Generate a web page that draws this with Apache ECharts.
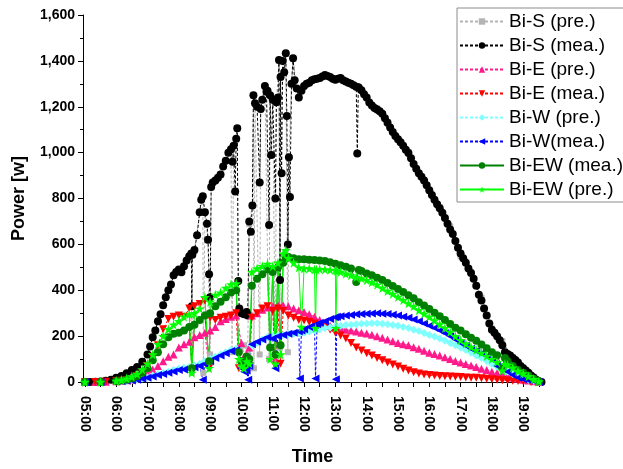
<!DOCTYPE html>
<html><head><meta charset="utf-8">
<script src="https://cdn.jsdelivr.net/npm/echarts@6/dist/echarts.min.js"></script>
<style>html,body{margin:0;padding:0;background:#fff}#c{width:623px;height:469px}</style>
</head><body><div id="c"></div>
<script>
const seriesNames = ['Bi-S (pre.)','Bi-S (mea.)','Bi-E (pre.)','Bi-E (mea.)','Bi-W (pre.)','Bi-W(mea.)','Bi-EW (mea.)','Bi-EW (pre.)'];
const hourLabels = ['05:00','06:00','07:00','08:00','09:00','10:00','11:00','12:00','13:00','14:00','15:00','16:00','17:00','18:00','19:00'];
const yTicks = [0,200,400,600,800,1000,1200,1400,1600];

const biS_pre = [["05:00",0],["05:20",0],["05:40",4],["06:00",16],["06:20",36],["06:40",64],["07:00",118],["07:10",192],["07:20",262],["07:30",332],["07:40",398],["07:50",462],["08:00",488],["08:10",503],["08:20",546],["08:24",558],["08:25",40],["08:26",552],["08:30",572],["08:40",738],["08:46",808],["08:47",40],["08:50",742],["08:56",618],["08:58",300],["09:00",120],["09:02",848],["09:10",876],["09:20",903],["09:30",963],["09:40",1012],["09:42",130],["09:45",1028],["09:50",1058],["09:52",1104],["09:54",300],["09:58",150],["10:05",160],["10:12",120],["10:15",690],["10:21",768],["10:23",1248],["10:24",60],["10:26",1212],["10:35",120],["10:37",1188],["10:45",1288],["10:53",100],["10:55",1248],["11:00",1228],["11:05",90],["11:07",1218],["11:12",1400],["11:14",150],["11:15",1328],["11:25",1430],["11:29",130],["11:31",978],["11:36",1298],["11:39",1409],["11:46",1278],["11:55",1268],["12:00",1288],["12:15",1314],["12:30",1323],["12:40",1336],["13:00",1316],["13:20",1308],["13:40",1285],["14:00",1238],["14:20",1193],["14:40",1133],["15:00",1058],["15:20",1003],["15:40",908],["16:00",834],["16:20",763],["16:40",678],["17:00",548],["17:20",478],["17:40",368],["18:00",233],["18:20",178],["18:40",108],["19:00",63],["19:20",20],["19:35",0]];

const biS_mea = [["05:00",0],["05:10",0],["05:20",1],["05:30",2],["05:40",5],["05:50",10],["06:00",18],["06:10",26],["06:20",38],["06:30",52],["06:40",65],["06:50",88],["07:00",120],["07:05",155],["07:10",195],["07:15",225],["07:20",265],["07:25",295],["07:30",335],["07:35",370],["07:40",400],["07:45",425],["07:50",465],["07:55",480],["08:00",490],["08:05",478],["08:10",505],["08:15",530],["08:20",548],["08:24",560],["08:25",330],["08:26",555],["08:30",575],["08:35",640],["08:40",740],["08:43",795],["08:46",810],["08:50",740],["08:54",690],["08:56",620],["08:58",470],["09:00",370],["09:02",850],["09:05",870],["09:10",878],["09:15",890],["09:20",905],["09:25",940],["09:30",965],["09:35",1000],["09:40",1015],["09:43",960],["09:45",1030],["09:48",830],["09:50",1060],["09:52",1106],["09:54",440],["09:56",320],["10:00",300],["10:05",295],["10:10",305],["10:12",290],["10:15",700],["10:18",655],["10:21",770],["10:23",1250],["10:26",1215],["10:30",1200],["10:35",870],["10:37",1190],["10:40",1230],["10:45",1290],["10:48",1265],["10:50",1270],["10:53",685],["10:55",1250],["10:57",990],["11:00",1230],["11:05",800],["11:07",1220],["11:10",1240],["11:12",1404],["11:14",445],["11:15",1330],["11:17",910],["11:19",1400],["11:22",1350],["11:25",1433],["11:27",1160],["11:29",600],["11:31",980],["11:33",807],["11:36",1300],["11:39",1411],["11:42",1316],["11:46",1280],["11:50",1240],["11:55",1270],["12:00",1290],["12:05",1300],["12:10",1305],["12:15",1316],["12:20",1320],["12:25",1322],["12:30",1325],["12:35",1332],["12:40",1338],["12:45",1334],["12:50",1330],["12:55",1322],["13:00",1318],["13:05",1322],["13:10",1325],["13:15",1316],["13:20",1310],["13:25",1305],["13:30",1300],["13:35",1294],["13:40",1287],["13:42",996],["13:44",1285],["13:45",1283],["13:50",1272],["13:55",1255],["14:00",1240],["14:05",1218],["14:10",1205],["14:15",1195],["14:20",1188],["14:25",1180],["14:30",1170],["14:35",1150],["14:40",1130],["14:45",1110],["14:50",1090],["14:55",1072],["15:00",1058],["15:05",1045],["15:10",1030],["15:15",1012],["15:20",998],["15:25",975],["15:30",950],["15:35",930],["15:40",910],["15:45",895],["15:50",878],["15:55",858],["16:00",836],["16:05",815],["16:10",795],["16:15",775],["16:20",758],["16:25",738],["16:30",715],["16:35",690],["16:40",665],["16:45",645],["16:50",615],["16:55",585],["17:00",560],["17:05",540],["17:10",520],["17:15",495],["17:20",475],["17:25",450],["17:30",420],["17:35",380],["17:40",355],["17:45",320],["17:50",290],["17:55",255],["18:00",228],["18:05",215],["18:10",200],["18:15",182],["18:20",160],["18:25",130],["18:30",122],["18:35",115],["18:40",105],["18:45",96],["18:50",85],["18:55",70],["19:00",60],["19:05",50],["19:10",40],["19:15",28],["19:20",20],["19:25",10],["19:30",3],["19:35",0]];

const biE_pre = [["05:00",0],["05:20",0],["05:40",1],["06:00",3],["06:10",5],["06:20",8],["06:30",10],["06:40",15],["06:50",20],["07:00",35],["07:10",55],["07:20",70],["07:30",90],["07:40",110],["07:50",120],["08:00",150],["08:10",165],["08:20",175],["08:30",195],["08:40",205],["08:50",215],["08:57",80],["09:00",225],["09:10",240],["09:20",265],["09:30",275],["09:40",285],["09:50",290],["10:00",170],["10:05",110],["10:10",120],["10:15",150],["10:20",290],["10:30",300],["10:40",315],["10:50",325],["11:00",330],["11:05",100],["11:10",335],["11:20",335],["11:30",330],["11:40",320],["11:50",313],["12:00",305],["12:10",295],["12:20",285],["12:30",270],["12:40",258],["12:50",245],["13:00",238],["13:10",233],["13:20",228],["13:30",224],["13:40",220],["13:50",215],["14:00",211],["14:10",206],["14:20",200],["14:30",193],["14:40",185],["14:50",178],["15:00",170],["15:10",165],["15:20",160],["15:30",152],["15:40",145],["15:50",136],["16:00",128],["16:10",122],["16:20",115],["16:30",108],["16:40",100],["16:50",92],["17:00",85],["17:10",78],["17:20",72],["17:30",65],["17:40",58],["17:50",52],["18:00",45],["18:10",40],["18:20",35],["18:30",28],["18:40",20],["18:50",14],["19:00",10],["19:10",6],["19:20",3],["19:30",0]];

const biE_mea = [["05:00",0],["05:20",0],["05:40",1],["06:00",3],["06:10",5],["06:20",8],["06:30",12],["06:40",25],["06:50",40],["07:00",70],["07:10",110],["07:20",160],["07:30",230],["07:40",275],["07:50",285],["08:00",290],["08:10",285],["08:20",320],["08:25",60],["08:30",330],["08:40",340],["08:50",355],["08:58",60],["09:00",280],["09:10",270],["09:20",280],["09:30",285],["09:40",290],["09:50",300],["09:55",60],["10:00",80],["10:05",60],["10:10",100],["10:15",70],["10:20",280],["10:30",300],["10:40",320],["10:50",330],["11:00",310],["11:05",70],["11:10",320],["11:15",80],["11:20",310],["11:30",290],["11:40",280],["11:50",270],["12:00",268],["12:10",262],["12:20",255],["12:30",247],["12:40",238],["12:50",228],["13:00",215],["13:10",203],["13:20",190],["13:30",170],["13:40",150],["13:50",137],["14:00",125],["14:10",115],["14:20",105],["14:30",95],["14:40",85],["14:50",76],["15:00",68],["15:10",58],["15:20",50],["15:30",43],["15:40",37],["15:50",33],["16:00",30],["16:10",28],["16:20",26],["16:30",25],["16:40",24],["16:50",23],["17:00",22],["17:10",20],["17:20",19],["17:30",18],["17:40",16],["17:50",14],["18:00",12],["18:10",10],["18:20",8],["18:30",7],["18:40",5],["18:50",4],["19:00",3],["19:15",1],["19:30",0]];

const biW_pre = [["05:00",0],["05:30",0],["06:00",2],["06:10",3],["06:20",5],["06:30",8],["06:40",11],["06:50",15],["07:00",20],["07:10",28],["07:20",35],["07:30",40],["07:40",45],["07:50",52],["08:00",58],["08:10",62],["08:20",65],["08:30",72],["08:40",80],["08:50",90],["09:00",100],["09:10",110],["09:20",120],["09:30",130],["09:40",140],["09:50",145],["10:00",70],["10:05",60],["10:10",60],["10:15",100],["10:20",160],["10:30",170],["10:40",185],["10:50",195],["11:00",200],["11:10",202],["11:20",205],["11:30",208],["11:40",210],["11:50",212],["12:00",215],["12:10",220],["12:20",225],["12:30",230],["12:40",235],["12:50",238],["13:00",242],["13:10",245],["13:20",248],["13:30",250],["13:40",252],["13:50",254],["14:00",255],["14:10",256],["14:20",256],["14:30",254],["14:40",252],["14:50",248],["15:00",245],["15:10",240],["15:20",235],["15:30",228],["15:40",222],["15:50",214],["16:00",205],["16:10",198],["16:20",190],["16:30",180],["16:40",170],["16:50",160],["17:00",150],["17:10",140],["17:20",128],["17:30",116],["17:40",105],["17:50",92],["18:00",78],["18:10",66],["18:20",55],["18:30",45],["18:40",35],["18:50",26],["19:00",18],["19:10",10],["19:20",5],["19:30",0]];

const biW_mea = [["05:00",0],["05:30",0],["06:00",2],["06:10",3],["06:20",5],["06:30",7],["06:40",10],["06:50",14],["07:00",18],["07:10",24],["07:20",30],["07:30",35],["07:40",40],["07:50",46],["08:00",52],["08:10",55],["08:20",58],["08:30",64],["08:40",70],["08:46",10],["08:50",78],["09:00",90],["09:10",105],["09:20",115],["09:30",125],["09:40",135],["09:50",140],["10:00",60],["10:05",45],["10:10",50],["10:13",10],["10:15",70],["10:20",165],["10:30",175],["10:40",185],["10:50",195],["11:00",190],["11:05",60],["11:10",200],["11:20",205],["11:30",210],["11:40",215],["11:50",220],["11:52",15],["11:55",225],["12:00",230],["12:10",240],["12:20",248],["12:22",15],["12:25",252],["12:30",258],["12:40",265],["12:50",275],["13:00",282],["13:01",12],["13:03",284],["13:10",287],["13:20",290],["13:30",292],["13:40",295],["13:50",297],["14:00",298],["14:10",299],["14:20",300],["14:30",298],["14:40",296],["14:50",293],["15:00",290],["15:10",285],["15:20",280],["15:30",272],["15:40",265],["15:50",255],["16:00",245],["16:10",235],["16:20",225],["16:30",212],["16:40",200],["16:50",185],["17:00",170],["17:10",158],["17:20",145],["17:30",135],["17:40",125],["17:50",112],["18:00",100],["18:10",70],["18:20",60],["18:30",45],["18:40",30],["18:50",18],["19:00",12],["19:10",8],["19:20",4],["19:30",0]];

const biEW_mea = [["05:00",0],["05:30",0],["06:00",3],["06:10",6],["06:20",10],["06:30",16],["06:40",25],["06:50",40],["07:00",60],["07:10",95],["07:20",130],["07:30",165],["07:40",195],["07:50",210],["08:00",215],["08:10",225],["08:20",240],["08:25",60],["08:30",250],["08:40",270],["08:50",290],["08:58",90],["09:00",300],["09:10",330],["09:20",350],["09:30",370],["09:40",390],["09:50",400],["09:55",130],["10:00",90],["10:05",80],["10:10",110],["10:15",100],["10:20",420],["10:30",450],["10:40",470],["10:50",490],["10:55",150],["11:00",480],["11:05",120],["11:10",500],["11:15",160],["11:20",520],["11:25",540],["11:30",545],["11:40",540],["11:50",535],["12:00",535],["12:10",533],["12:20",532],["12:30",530],["12:40",527],["12:50",522],["13:00",516],["13:10",509],["13:20",502],["13:30",495],["13:40",436],["13:45",488],["13:50",484],["14:00",473],["14:10",465],["14:20",455],["14:30",445],["14:40",432],["14:50",418],["15:00",405],["15:10",392],["15:20",378],["15:30",365],["15:40",348],["15:50",333],["16:00",318],["16:10",302],["16:20",287],["16:30",270],["16:40",253],["16:50",237],["17:00",225],["17:10",208],["17:20",193],["17:30",180],["17:40",163],["17:50",147],["18:00",130],["18:10",117],["18:20",60],["18:25",105],["18:30",90],["18:40",70],["18:50",52],["19:00",40],["19:10",27],["19:20",14],["19:30",3]];

const biEW_pre = [["05:00",0],["05:30",0],["06:00",5],["06:10",9],["06:20",15],["06:30",24],["06:40",35],["06:50",55],["07:00",80],["07:10",120],["07:20",165],["07:30",200],["07:40",230],["07:50",250],["08:00",265],["08:10",285],["08:20",295],["08:25",40],["08:30",300],["08:40",320],["08:50",370],["08:58",60],["09:00",350],["09:10",380],["09:20",390],["09:30",410],["09:40",425],["09:50",430],["09:55",100],["10:00",70],["10:05",60],["10:10",90],["10:15",80],["10:20",480],["10:30",495],["10:40",505],["10:50",515],["10:55",100],["11:00",505],["11:05",80],["11:10",520],["11:15",120],["11:20",560],["11:25",575],["11:30",540],["11:40",520],["11:50",500],["11:55",240],["12:00",495],["12:10",495],["12:20",490],["12:22",235],["12:24",490],["12:30",492],["12:40",491],["12:50",489],["13:00",487],["13:01",235],["13:03",485],["13:10",480],["13:20",472],["13:30",465],["13:40",458],["13:50",452],["14:00",444],["14:10",435],["14:20",424],["14:30",410],["14:40",397],["14:50",384],["15:00",371],["15:10",357],["15:20",343],["15:30",330],["15:40",313],["15:50",298],["16:00",284],["16:10",268],["16:20",252],["16:30",235],["16:40",218],["16:50",200],["17:00",182],["17:10",167],["17:20",153],["17:30",140],["17:40",127],["17:50",113],["18:00",100],["18:10",87],["18:20",50],["18:25",78],["18:30",75],["18:40",62],["18:50",48],["19:00",38],["19:10",25],["19:20",12],["19:30",3]];

function tm(s){const p=s.split(':');return +p[0] + (+p[1])/60;}
function conv(arr){return arr.map(d=>[tm(d[0]), d[1]]);}

const STAR = 'path://M50,0 L61,35 L98,35 L68,57 L79,91 L50,70 L21,91 L32,57 L2,35 L39,35 Z';
const styles = [
  {data:biS_pre, color:'#b4b4b4', symbol:'rect', size:6, dash:[3,2], rot:0},
  {data:biS_mea, color:'#000000', symbol:'circle', size:8, dash:[3,2], rot:0},
  {data:biE_pre, color:'#ff1a8c', symbol:'triangle', size:8, dash:[3,2], rot:0},
  {data:biE_mea, color:'#ff0000', symbol:'triangle', size:8, dash:[3,2], rot:180},
  {data:biW_pre, color:'#80ffff', symbol:'diamond', size:8, dash:[3,2], rot:0},
  {data:biW_mea, color:'#0000ff', symbol:'triangle', size:8, dash:[3,2], rot:90},
  {data:biEW_mea, color:'#008000', symbol:'circle', size:8, dash:'solid', rot:0},
  {data:biEW_pre, color:'#00ff00', symbol:STAR, size:10, dash:'solid', rot:0}
];

const hourVals = hourLabels.map(tm);
const tickVals = [];
for (let i=0;i<hourVals.length;i++){tickVals.push(hourVals[i]); tickVals.push(hourVals[i]+0.5);}

const chart = echarts.init(document.getElementById('c'), null, {renderer:'canvas'});
chart.setOption({
  animation:false,
  backgroundColor:'#fff',
  textStyle:{fontFamily:'Liberation Sans'},
  grid:{left:83, right:81, top:15, bottom:87, containLabel:false, outerBoundsMode:'none'},
  legend:{
    orient:'vertical', left:457, top:8,
    data:seriesNames,
    itemWidth:44, itemHeight:8, itemGap:5,
    padding:[4,6,3,2],
    borderColor:'#8c8c8c', borderWidth:1,
    backgroundColor:'#fff',
    textStyle:{fontSize:19, color:'#000', fontFamily:'Liberation Sans'}
  },
  xAxis:{
    type:'value', min:4.94, max:19.6,
    name:'Time', nameLocation:'middle', nameGap:66,
    nameTextStyle:{fontSize:18, fontWeight:'bold', color:'#000', fontFamily:'Liberation Sans'},
    axisLine:{show:true, onZero:false, lineStyle:{color:'#000', width:1}},
    axisTick:{show:true, length:5, customValues:tickVals, lineStyle:{color:'#000'}},
    axisLabel:{customValues:hourVals, rotate:-90, margin:14, fontSize:14, fontWeight:'bold', color:'#000', fontFamily:'Liberation Sans',
      formatter:function(v){const h=Math.round(v);return (h<10?'0':'')+h+':00';}},
    splitLine:{show:false}
  },
  yAxis:{
    type:'value', min:yTicks[0], max:yTicks[yTicks.length-1], interval:200,
    name:'Power [w]', nameLocation:'middle', nameGap:55, nameRotate:90,
    nameTextStyle:{fontSize:18, fontWeight:'bold', color:'#000', fontFamily:'Liberation Sans'},
    axisLine:{show:true, lineStyle:{color:'#000', width:1}},
    axisTick:{show:true, length:5, lineStyle:{color:'#000'}},
    minorTick:{show:true, splitNumber:2, length:3, lineStyle:{color:'#000'}},
    axisLabel:{fontSize:14, fontWeight:'bold', color:'#000', margin:8, fontFamily:'Liberation Sans',
      formatter:function(v){return v.toLocaleString('en-US');}},
    splitLine:{show:false}
  },
  series: styles.map((s,i)=>({
    name:seriesNames[i], type:'line', data:conv(s.data),
    symbol:s.symbol, symbolSize:s.size, symbolRotate:s.rot, showSymbol:true,
    itemStyle:{color:s.color},
    lineStyle:{color:s.color, width:1, type:s.dash},
    emphasis:{disabled:true}
  }))
});
</script></body></html>
